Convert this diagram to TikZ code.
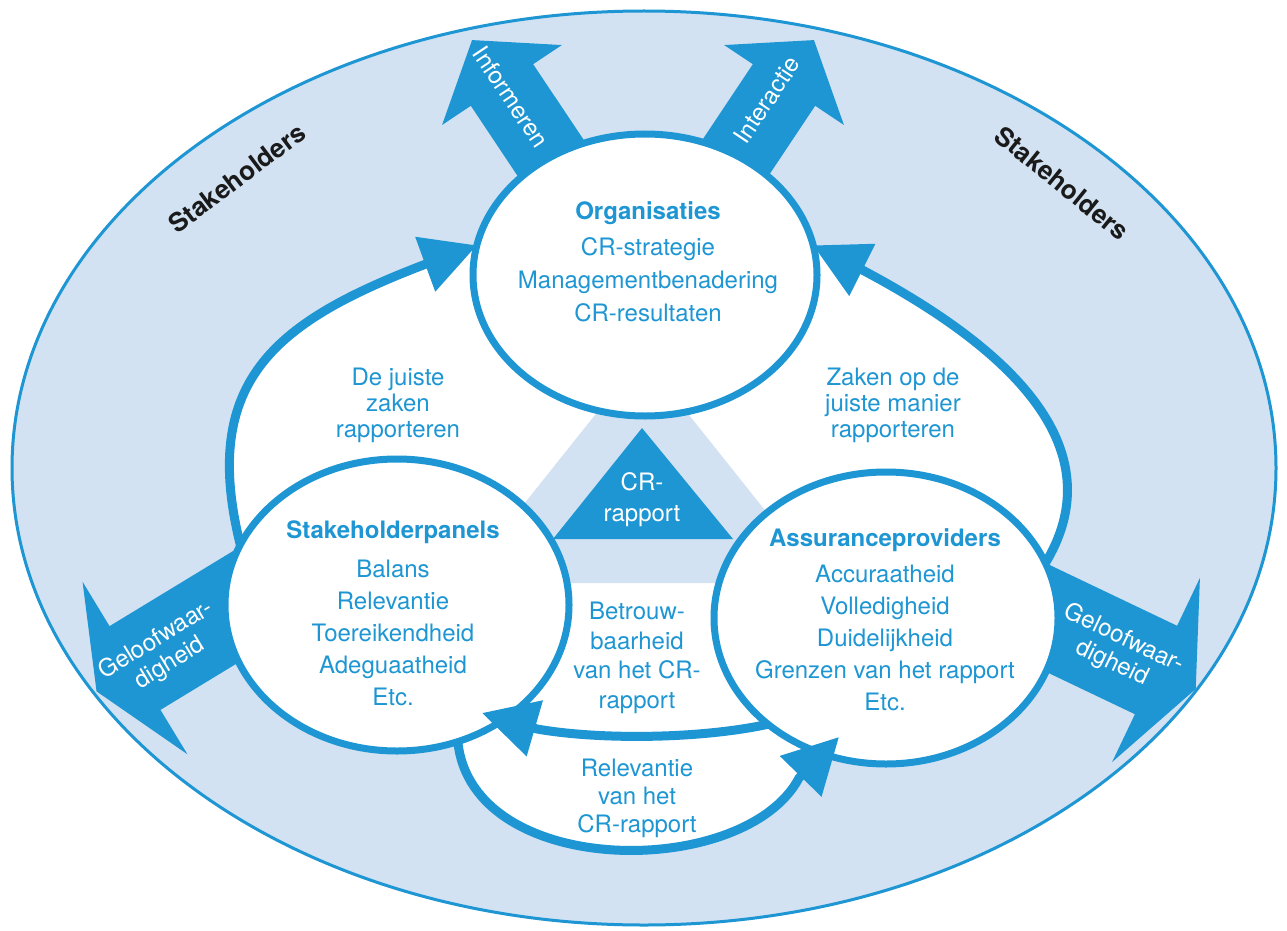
\documentclass[tikz,border=0pt]{standalone}
\usepackage{fontspec}
\setmainfont{TeX Gyre Heros}
\usetikzlibrary{arrows.meta,bending,shapes.geometric}
\definecolor{cblue}{RGB}{30,150,211}
\definecolor{clight}{RGB}{210,226,242}
\definecolor{cdark}{RGB}{26,26,26}
\pgfdeclarelayer{bg}
\pgfsetlayers{bg,main}
\begin{document}
\begin{tikzpicture}[x=1pt,y=-1pt,
  font=\fontsize{24}{32}\selectfont,
  bubble/.style={ellipse, draw=cblue, line width=7pt, fill=white, inner sep=0pt, outer sep=0pt},
  txt/.style={text=cblue, align=center},
  lbl/.style={text=cblue, align=center, font=\fontsize{24}{26}\selectfont},
  wtxt/.style={text=white, align=center},
  flow/.style={draw=cblue, line width=9pt, -{Triangle[length=55pt,width=56pt,flex]}},
  barrow/.style={fill=cblue},
  shd/.style={text=cdark, font=\fontsize{26}{30}\selectfont\bfseries}
]
\useasboundingbox (0,0) rectangle (1287,931);

% circles
\node[bubble, minimum width=344pt, minimum height=282pt] (org) at (645,275) {};
\node[bubble, minimum width=344pt, minimum height=292pt] (stk) at (397,605) {};
\node[bubble, minimum width=344pt, minimum height=292pt] (ass) at (886,618) {};

% arrow tip points that reach onto the circles
\coordinate (tipB) at (839,737);
\coordinate (backB) at (799,778);
\coordinate (tipM) at (482,713);
\coordinate (backM) at (537,729);

\begin{pgfonlayer}{bg}
\fill[white] (0,0) rectangle (1287,931);
\draw[fill=clight, draw=cblue, line width=3pt] (644,468) ellipse [x radius=632pt, y radius=457pt];
\fill[white] (stk.159) .. controls (195,362) and (294,310) .. (org.170) -- (org.10)
  .. controls (1033.5,349.9) and (1109.8,456.5) .. (ass.19) -- (tipB) -- (backB)
  .. controls (745,880) and (472,880) .. (stk.-66) -- cycle;
\fill[clight] (642,356) -- (461,583) -- (823,583) -- cycle;
% block arrows
\begin{scope}[shift={(502,85)}, rotate=123.7]
  \fill[barrow] (-150,-37.5) -- (0,-37.5) -- (0,-72) -- (54,0) -- (0,72) -- (0,37.5) -- (-150,37.5) -- cycle;
\end{scope}
\begin{scope}[shift={(784,85)}, rotate=56.3]
  \fill[barrow] (-150,-37.5) -- (0,-37.5) -- (0,-72) -- (54,0) -- (0,72) -- (0,37.5) -- (-150,37.5) -- cycle;
\end{scope}
\begin{scope}[shift={(135,668)}, rotate=211.3]
  \fill[barrow] (-180,-49) -- (0,-49) -- (0,-101) -- (45,0) -- (0,101) -- (0,49) -- (-180,49) -- cycle;
\end{scope}
\begin{scope}[shift={(1156,670)}, rotate=-25.5]
  \fill[barrow] (-180,-49) -- (0,-49) -- (0,-102) -- (44,0) -- (0,102) -- (0,49) -- (-180,49) -- cycle;
\end{scope}
\end{pgfonlayer}

% flows
\draw[flow] (stk.159) .. controls (195,362) and (294,310) .. (org.170);
\draw[flow] (ass.19) .. controls (1109.8,456.5) and (1033.5,349.9) .. (org.10);
\draw[flow] (stk.-66) .. controls (472,880) and (745,880) .. (backB) -- (tipB);
\draw[flow] (ass.-138) .. controls (700,739) and (600,740) .. (backM) -- (tipM);

% CR-rapport triangle
\fill[cblue] (642,428) -- (553,539) -- (733,539) -- cycle;
\node[wtxt, font=\fontsize{24}{31}\selectfont] (crr) at (642,500) {CR-\\rapport};

% labels
\node[lbl] (l1) at (398,405) {De juiste\\zaken\\rapporteren};
\node[lbl] (l2) at (893,405) {Zaken op de\\juiste manier\\rapporteren};
\node[txt, font=\fontsize{24}{29.5}\selectfont] (l3) at (637,658) {Betrouw-\\baarheid\\van het CR-\\rapport};
\node[txt, font=\fontsize{24}{28}\selectfont] (l4) at (637,798) {Relevantie\\van het\\CR-rapport};

% circle texts
\node[txt, font=\fontsize{24}{33}\selectfont] (orgt) at (648,262) {\textbf{Organisaties}\\[3pt]CR-strategie\\Managementbenadering\\CR-resultaten};
\node[txt] (stkt) at (393,613) {\textbf{Stakeholderpanels}\\[7pt]Balans\\Relevantie\\Toereikendheid\\Adeguaatheid\\Etc.};
\node[txt] (asst) at (885,620) {\textbf{Assuranceproviders}\\[4pt]Accuraatheid\\Volledigheid\\Duidelijkheid\\Grenzen van het rapport\\Etc.};

% arrow texts
\node[wtxt, rotate=-56.3] (inf) at (511,97) {Informeren};
\node[wtxt, rotate=56.3] (int) at (767,100) {Interactie};
\node[wtxt, rotate=31.3, font=\fontsize{24}{27}\selectfont] (gl) at (163,652) {Geloofwaar-\\digheid};
\node[wtxt, rotate=-25.5, font=\fontsize{24}{27}\selectfont] (gr) at (1118,651) {Geloofwaar-\\digheid};

% stakeholders
\node[shd, rotate=36.9] (s1) at (237,178) {Stakeholders};
\node[shd, rotate=-39] (s2) at (1062,183) {Stakeholders};
\end{tikzpicture}
\end{document}
